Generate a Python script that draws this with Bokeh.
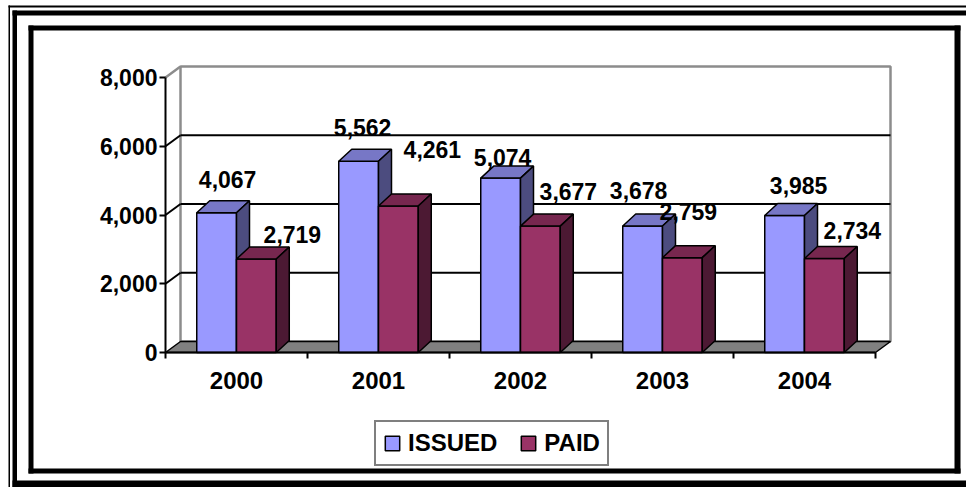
import numpy as np
from bokeh.plotting import figure
from bokeh.models import (Range1d, LinearAxis, FixedTicker, NumeralTickFormatter,
                          Legend, LegendItem)
from bokeh.embed import file_html
from bokeh.resources import INLINE
from bokeh.core.properties import value

# ---------------- data ----------------
years = ["2000", "2001", "2002", "2003", "2004"]
issued = [4067, 5562, 5074, 3678, 3985]
paid = [2719, 4261, 3677, 2759, 2734]
y_ticks = [0, 2000, 4000, 6000, 8000]
y_max = 8000

# ---------------- label placement nudges (pixels, style only) ----------------
issued_nudge_x = [11, 4, 2, -4, 14]
issued_nudge_y = [-2, -3, 10, -5, 1]
paid_nudge_x = [8, 6, 0, -22, 0]
paid_nudge_y = [4, -28, -6, -17, 1]

# ---------------- geometry (pixels) ----------------
W, H = 966, 487
PX_CAT = 142.0                 # pixels per category
PX_VAL = 275.0 / y_max         # pixels per value unit
ORIGIN_X, ORIGIN_Y = 165, 352  # where (0, 0) of the chart sits on the canvas
WALL_DX_PX, WALL_DY_PX = 15, 11
BAR_DX_PX, BAR_DY_PX = 13, 12
n = len(years)

wdx, wdy = WALL_DX_PX / PX_CAT, WALL_DY_PX / PX_VAL
bdx, bdy = BAR_DX_PX / PX_CAT, BAR_DY_PX / PX_VAL
BAR_W = 0.28

FONT = value("Liberation Sans")
GRAY = "#8c8c8c"

p = figure(width=W, height=H,
           x_range=Range1d(-ORIGIN_X / PX_CAT, (W - ORIGIN_X) / PX_CAT),
           y_range=Range1d(-(H - ORIGIN_Y) / PX_VAL, ORIGIN_Y / PX_VAL),
           output_backend="svg", toolbar_location=None,
           x_axis_type=None, y_axis_type=None,
           min_border=0, min_border_left=0, min_border_right=0,
           min_border_top=0, min_border_bottom=0,
           outline_line_color=None, background_fill_color="white",
           border_fill_color="white")


# ---------------- page frames (filled bands given in canvas pixels) ----------------
def band(l, t, r, b):
    p.quad(left=(l - ORIGIN_X) / PX_CAT, right=(r - ORIGIN_X) / PX_CAT,
           top=(ORIGIN_Y - t) / PX_VAL, bottom=(ORIGIN_Y - b) / PX_VAL,
           fill_color="black", line_color=None)


# outer thin line
band(8, 5, 9.5, H)
band(8, 5, W, 7)
# outer thick line
band(12, 10, 16.5, H)
band(12, 10, W, 15)
band(12, 480, W, H)
# inner frame
band(28, 25, 33, 473)
band(28, 25, 960, 30)
band(954, 25, 960, 473)
band(28, 468, 960, 473)

# ---------------- axes ----------------
yaxis = LinearAxis(ticker=FixedTicker(ticks=y_ticks, minor_ticks=[]),
                   formatter=NumeralTickFormatter(format="0,0"),
                   bounds=(0, y_max), fixed_location=0)
yaxis.axis_line_width = 2
yaxis.axis_line_color = "black"
yaxis.major_tick_out = 6
yaxis.major_tick_in = 0
yaxis.major_tick_line_width = 2
yaxis.minor_tick_out = 0
yaxis.minor_tick_in = 0
yaxis.major_label_standoff = 2
yaxis.major_label_text_font = "Liberation Sans"
yaxis.major_label_text_font_style = "bold"
yaxis.major_label_text_font_size = "23px"
yaxis.major_label_text_color = "black"
p.add_layout(yaxis, "left")

centers = [i + 0.5 for i in range(n)]
xaxis = LinearAxis(ticker=FixedTicker(ticks=centers, minor_ticks=list(range(n + 1))),
                   major_label_overrides={c: y for c, y in zip(centers, years)},
                   bounds=(0, n), fixed_location=0)
xaxis.axis_line_width = 2
xaxis.axis_line_color = "black"
xaxis.major_tick_out = 0
xaxis.major_tick_in = 0
xaxis.minor_tick_out = 6
xaxis.minor_tick_in = 0
xaxis.minor_tick_line_width = 2
xaxis.minor_tick_line_color = "black"
xaxis.major_label_standoff = 13
xaxis.major_label_text_font = "Liberation Sans"
xaxis.major_label_text_font_style = "bold"
xaxis.major_label_text_font_size = "24px"
xaxis.major_label_text_color = "black"
p.add_layout(xaxis, "below")

# ---------------- 3D walls ----------------
p.quad(left=wdx, right=n + wdx, bottom=wdy, top=y_max + wdy,
       fill_color="white", line_color=GRAY, line_width=2.5)
p.segment(x0=[0], y0=[y_max], x1=[wdx], y1=[y_max + wdy], line_color=GRAY, line_width=2.5)
inner = [t for t in y_ticks if 0 < t < y_max]
p.segment(x0=[0] * len(inner), y0=inner, x1=[wdx] * len(inner),
          y1=[t + wdy for t in inner], line_color="black", line_width=2)
p.segment(x0=[wdx] * len(inner), y0=[t + wdy for t in inner],
          x1=[n + wdx] * len(inner), y1=[t + wdy for t in inner],
          line_color="black", line_width=2)
p.patch([0, n, n + wdx, wdx], [0, 0, wdy, wdy], fill_color="#808080",
        line_color="black", line_width=1.5)


# ---------------- 3D bars ----------------
def shade(hex_color, f):
    h = hex_color.lstrip("#")
    r, g, b = (int(h[i:i + 2], 16) for i in (0, 2, 4))
    return "#%02x%02x%02x" % (int(r * f), int(g * f), int(b * f))


series = [("ISSUED", issued, "#9999ff", -BAR_W, 0, -31, issued_nudge_x, issued_nudge_y),
          ("PAID", paid, "#993366", 0.0, 28, -29, paid_nudge_x, paid_nudge_y)]
front_renderers = {}
for name, vals, col, off, *_ in series:
    x0 = [c + off for c in centers]
    x1 = [a + BAR_W for a in x0]
    r = p.quad(left=x0, right=x1, bottom=0, top=vals, fill_color=col,
               line_color="black", line_width=1.5)
    front_renderers[name] = r
    top_xs = [[a, b, b + bdx, a + bdx] for a, b in zip(x0, x1)]
    top_ys = [[v, v, v + bdy, v + bdy] for v in vals]
    p.patches(top_xs, top_ys, fill_color=shade(col, 0.78), line_color="black", line_width=1.5)
    side_xs = [[b, b + bdx, b + bdx, b] for b in x1]
    side_ys = [[0, bdy, v + bdy, v] for v in vals]
    p.patches(side_xs, side_ys, fill_color=shade(col, 0.5), line_color="black", line_width=1.5)

# ---------------- value labels ----------------
for name, vals, col, off, dx, dy, nx, ny in series:
    xs = [c + off + BAR_W / 2 for c in centers]
    p.text(x=xs, y=vals, text=[f"{v:,}" for v in vals],
           x_offset=[dx + a for a in nx], y_offset=[dy + b for b in ny],
           text_font=FONT, text_font_style="bold", text_font_size="23px",
           text_color="black", text_align="center", text_baseline="middle")

# ---------------- legend ----------------
legend = Legend(items=[LegendItem(label=k, renderers=[v]) for k, v in front_renderers.items()],
                orientation="horizontal", location=(374, H - 466))
legend.label_text_font = "Liberation Sans"
legend.label_text_font_style = "bold"
legend.label_text_font_size = "24px"
legend.label_text_color = "black"
legend.label_height = 24
legend.border_line_color = "black"
legend.border_line_width = 2
legend.background_fill_color = "white"
legend.background_fill_alpha = 1
legend.glyph_width = 18
legend.glyph_height = 18
legend.label_standoff = 7
legend.spacing = 22
legend.padding = 7
legend.margin = 0
p.add_layout(legend, "center")

open("out.html", "w").write(file_html(p, INLINE))
